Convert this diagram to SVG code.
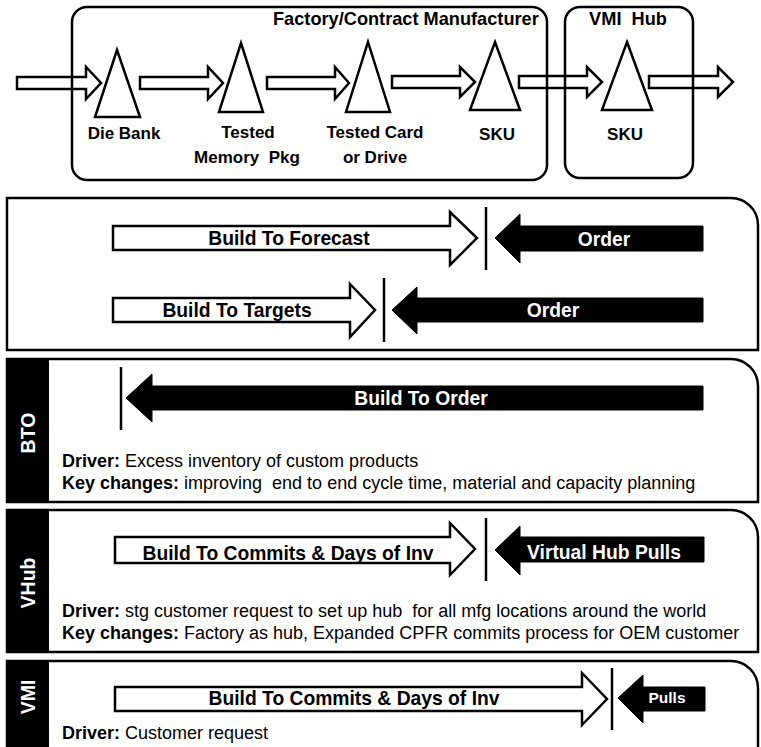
<svg xmlns="http://www.w3.org/2000/svg" width="761" height="747" viewBox="0 0 761 747">
  <defs>
    <style>
      .bg { fill: #ffffff; }
      .box { fill: none; stroke: #000; stroke-width: 2.5; }
      .panel { fill: #ffffff; stroke: #000; stroke-width: 2.5; }
      .bar { fill: #000; }
      .tri { fill: #ffffff; stroke: #000; stroke-width: 2.5; stroke-linejoin: miter; }
      .wa { fill: #ffffff; stroke: #000; stroke-width: 2.5; stroke-linejoin: miter; }
      .ba { fill: #000; stroke: #000; stroke-width: 1; }
      .sep { stroke: #000; stroke-width: 2.5; }
      text { font-family: "Liberation Sans", Arial, sans-serif; white-space: pre; }
      .lbl { font-size: 17px; font-weight: bold; fill: #000; text-anchor: middle; }
      .ttl { font-size: 18.2px; font-weight: bold; fill: #000; }
      .al { font-size: 19.3px; font-weight: bold; fill: #000; text-anchor: middle; }
      .alw { font-size: 19.3px; font-weight: bold; fill: #fff; text-anchor: middle; }
      .side { font-size: 19.5px; font-weight: bold; fill: #fff; text-anchor: middle; }
      .drv { font-size: 18px; fill: #000; }
      .b { font-weight: bold; }
    </style>
  </defs>

  <rect class="bg" x="0" y="0" width="761" height="747"/>

  <!-- material flow: block arrows between stock points -->
  <g id="connectors">
    <path class="wa" d="M17,77 H86 V67 L101,83 L86,99 V89 H17 Z"/>
    <path class="wa" d="M140,77 H208 V67 L223,83 L208,99 V89 H140 Z"/>
    <path class="wa" d="M267,77 H335 V67 L349,83 L335,99 V89 H267 Z"/>
    <path class="wa" d="M392,76 H460 V67 L475,82 L460,97 V88 H392 Z"/>
    <path class="wa" d="M519,76 H587 V67 L602,82 L587,97 V88 H519 Z"/>
    <path class="wa" d="M649,76 H718 V67 L733,82 L718,97 V88 H649 Z"/>
  </g>

  <!-- supply chain locations -->
  <g id="factory">
    <rect class="box" x="72" y="7" width="475" height="173" rx="15" ry="15"/>
    <text class="ttl" x="273" y="25">Factory/Contract Manufacturer</text>
  </g>
  <g id="vmi-hub">
    <rect class="box" x="565" y="7" width="128" height="171" rx="15" ry="15"/>
    <text class="ttl" text-anchor="middle" x="628" y="25">VMI  Hub</text>
  </g>

  <!-- stock points -->
  <g id="die-bank">
    <polygon class="tri" points="117,50 140,117 95,117"/>
    <text class="lbl" x="124" y="139">Die Bank</text>
  </g>
  <g id="tested-memory-pkg">
    <polygon class="tri" points="241,43 263,112 219,112"/>
    <text class="lbl" x="248" y="138">Tested</text>
    <text class="lbl" x="247" y="163">Memory  Pkg</text>
  </g>
  <g id="tested-card">
    <polygon class="tri" points="368,42 390,112 346,112"/>
    <text class="lbl" x="375" y="138">Tested Card</text>
    <text class="lbl" x="375" y="163">or Drive</text>
  </g>
  <g id="sku-factory">
    <polygon class="tri" points="495,42 520,110 470,110"/>
    <text class="lbl" x="497" y="140">SKU</text>
  </g>
  <g id="sku-hub">
    <polygon class="tri" points="627,42 652,110 602,110"/>
    <text class="lbl" x="625" y="140">SKU</text>
  </g>

  <!-- Build to forecast / build to targets -->
  <g id="panel-btf">
    <path class="panel" d="M7,198 H731 A27,27 0 0 1 758,225 V350 H7 Z"/>
    <path class="wa" d="M113,226 H450 V212 L477,238 L450,265 V250 H113 Z"/>
    <text class="al" x="289" y="245">Build To Forecast</text>
    <line class="sep" x1="486" y1="207" x2="486" y2="270"/>
    <path class="ba" d="M703,226 H520 V214 L495,238 L520,263 V251 H703 Z"/>
    <text class="alw" x="604" y="246">Order</text>

    <path class="wa" d="M113,298 H350 V284 L375,310 L350,337 V322 H113 Z"/>
    <text class="al" x="237" y="317">Build To Targets</text>
    <line class="sep" x1="384" y1="278" x2="384" y2="342"/>
    <path class="ba" d="M703,298 H417 V287 L392,310 L417,334 V322 H703 Z"/>
    <text class="alw" x="553" y="317">Order</text>
  </g>

  <!-- BTO -->
  <g id="panel-bto">
    <path class="panel" d="M7,359 H731 A27,27 0 0 1 758,386 V502 H7 Z"/>
    <path class="bar" d="M6,365 A6,6 0 0 1 12,358 H49 V503 H6 Z"/>
    <text class="side" transform="translate(28,433) rotate(-90)" y="7">BTO</text>
    <line class="sep" x1="121" y1="367" x2="121" y2="430"/>
    <path class="ba" d="M703,386 H152 V374 L126,398 L152,422 V410 H703 Z"/>
    <text class="alw" x="421" y="405">Build To Order</text>
    <text class="drv" x="62" y="467"><tspan class="b">Driver:</tspan> Excess inventory of custom products</text>
    <text class="drv" x="62" y="489"><tspan class="b">Key changes:</tspan> improving  end to end cycle time, material and capacity planning</text>
  </g>

  <!-- Virtual hub -->
  <g id="panel-vhub">
    <path class="panel" d="M7,510 H731 A27,27 0 0 1 758,537 V652 H7 Z"/>
    <path class="bar" d="M6,516 A6,6 0 0 1 12,509 H49 V653 H6 Z"/>
    <text class="side" transform="translate(28,583) rotate(-90)" y="7">VHub</text>
    <path class="wa" d="M115,537 H450 V523 L475,549 L450,575 V563 H115 Z"/>
    <text class="al" x="288" y="560">Build To Commits &amp; Days of Inv</text>
    <line class="sep" x1="486" y1="518" x2="486" y2="581"/>
    <path class="ba" d="M704,537 H520 V526 L495,550 L520,575 V562 H704 Z"/>
    <text class="alw" x="604" y="559">Virtual Hub Pulls</text>
    <text class="drv" x="62" y="617"><tspan class="b">Driver:</tspan> stg customer request to set up hub  for all mfg locations around the world</text>
    <text class="drv" x="62" y="639"><tspan class="b">Key changes:</tspan> Factory as hub, Expanded CPFR commits process for OEM customer</text>
  </g>

  <!-- VMI -->
  <g id="panel-vmi">
    <path class="panel" d="M7,661 H731 A27,27 0 0 1 758,688 V760 H7 Z"/>
    <path class="bar" d="M6,667 A6,6 0 0 1 12,660 H49 V760 H6 Z"/>
    <text class="side" transform="translate(28,697) rotate(-90)" y="7">VMI</text>
    <path class="wa" d="M115,687 H582 V673 L607,699 L582,725 V711 H115 Z"/>
    <text class="al" x="354" y="705">Build To Commits &amp; Days of Inv</text>
    <line class="sep" x1="612" y1="668" x2="612" y2="730"/>
    <path class="ba" d="M705,687 H643 V675 L618,698 L643,723 V711 H705 Z"/>
    <text class="alw" style="font-size:15.5px" x="667" y="703">Pulls</text>
    <text class="drv" x="62" y="739"><tspan class="b">Driver:</tspan> Customer request</text>
  </g>
</svg>
